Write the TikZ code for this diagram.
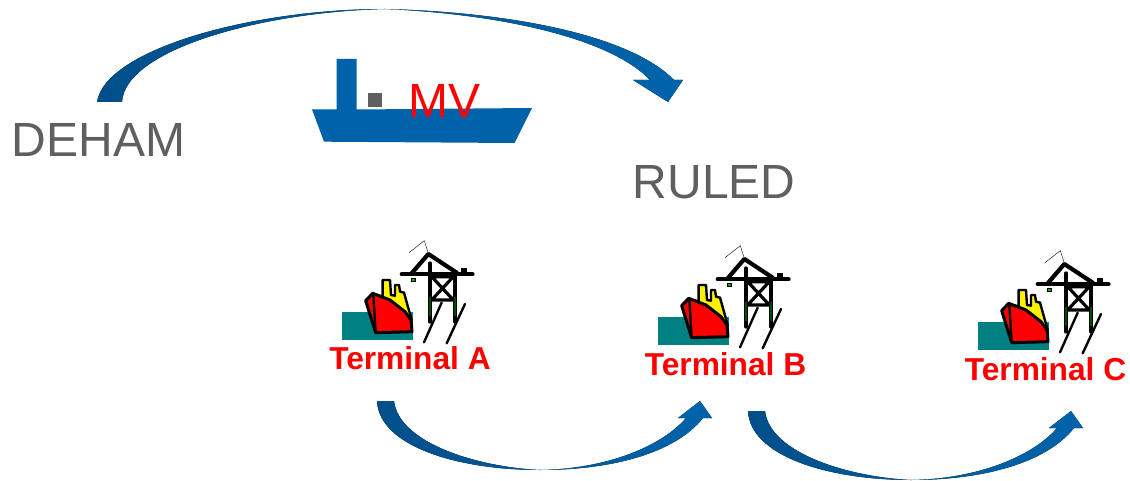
\documentclass[tikz,border=0pt]{standalone}
\usepackage{fontspec}
\setmainfont{Liberation Sans}
\definecolor{arrowdark}{HTML}{004F8A}
\definecolor{arrowblue}{HTML}{0063AA}
\definecolor{teal1}{HTML}{008080}
\definecolor{graytxt}{HTML}{5F5F5F}
\tikzset{
  bigtext/.style={text=graytxt,font=\fontsize{48}{48}\selectfont,inner sep=0pt},
  termtext/.style={text=red,font=\bfseries\fontsize{31.7}{32}\selectfont,inner sep=0pt},
  arrowfill/.style={left color=arrowdark,right color=arrowblue,draw=none},
  blk/.style={draw=black,line width=#1,line cap=round,line join=round},
  blk/.default=3pt,
  termicon/.pic={
    \begin{scope}[scale=1/3,shift={(-165,-150)}]
      \fill[teal1] (37,247) rectangle (250,331);
      \fill[yellow,blk=2.4pt] (158,200) -- (158,150) -- (180,150) -- (183,195) -- (195,197) -- (195,165) -- (207,165) -- (210,185) -- (222,188) -- (245,270) -- (140,195) -- cycle;
      \fill[red,blk=3pt] (107,212) -- (128,190) -- (180,210) -- (225,245) -- (243,270) -- (246,305) -- (137,308) -- (125,270) -- cycle;
      \draw[blk=2.4pt] (130,192) -- (137,308);
      \draw[black,line width=.4pt] (237,68) -- (283,32) -- (295,70);
      \draw[blk=4pt] (215,133) -- (428,133);
      \draw[blk=4.2pt] (245,130) -- (295,72) -- (380,128);
      \draw[blk=4pt] (300,100) -- (300,275);
      \draw[blk=4pt] (375,130) -- (375,275);
      \draw[blk=3.2pt] (305,140) -- (370,140) (305,210) -- (370,210) (305,140) -- (370,210) (370,140) -- (305,210);
      \fill[black] (393,115) rectangle (412,130);
      \fill[green!70!black,draw=black,line width=.6pt] (244,145) rectangle (257,155);
      \draw[green!30!black,line width=1.2pt] (300,200) -- (300,258) (375,200) -- (375,258);
      \draw[blk=2.4pt] (335,218) -- (282,337);
      \draw[blk=2.4pt] (405,222) -- (350,340);
    \end{scope}
  },
  lowarrow/.pic={
    \fill[arrowfill] (0,0) .. controls (2,45) and (80,69) .. (163,69)
      .. controls (240,69) and (300,50) .. (326,17)
      -- (335,17) -- (323,0) -- (301,17) -- (309,17)
      .. controls (285,45) and (230,68) .. (163,69)
      .. controls (100,66) and (22,42) .. (17,0) -- cycle;
  }
}
\begin{document}
\begin{tikzpicture}[x=1pt,y=-1pt]
  \useasboundingbox (0,0) rectangle (1130,481);
  % top arrow
  \fill[arrowfill] (97,102) .. controls (105,50) and (250,9) .. (385,9)
    .. controls (510,12) and (630,35) .. (674,80)
    -- (683,80) -- (668,102) -- (633,80) -- (650,80)
    .. controls (610,38) and (500,14) .. (385,9)
    .. controls (260,12) and (125,50) .. (122,102) -- cycle;
  % vessel
  \fill[arrowblue] (336.7,59) -- (356.6,59) -- (356.6,109.5) -- (532,108) -- (514.5,143) -- (324,141.7) -- (312,109.5) -- (336.7,109.5) -- cycle;
  \fill[graytxt] (368,93) rectangle (382,107.5);
  \node[anchor=base west,inner sep=0pt,text=red,font=\fontsize{48}{48}\selectfont] (mv) at (408,118) {MV};
  \node[bigtext,anchor=base west] (deham) at (11.5,157) {DEHAM};
  \node[bigtext,anchor=base west] (ruled) at (632.5,199) {RULED};
  % terminals
  \pic at (385,280) {termicon};
  \pic at (701,285) {termicon};
  \pic at (1021,290) {termicon};
  \node[termtext,anchor=base] (ta) at (410,369) {Terminal A};
  \node[termtext,anchor=base] (tb) at (725.5,375) {Terminal B};
  \node[termtext,anchor=base] (tc) at (1045.5,380) {Terminal C};
  % lower arrows
  \pic at (377,401) {lowarrow};
  \pic at (748,411) {lowarrow};
\end{tikzpicture}
\end{document}
